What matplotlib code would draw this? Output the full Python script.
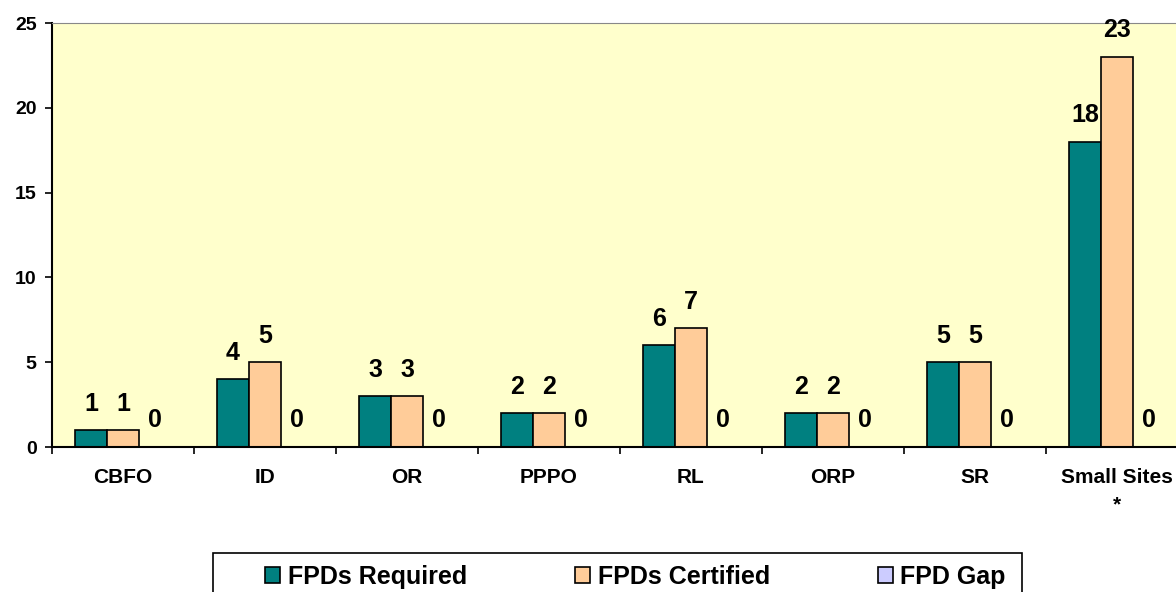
import matplotlib.pyplot as plt
import numpy as np
from matplotlib.patches import Rectangle

plt.rcParams['font.family'] = ['Liberation Sans', 'DejaVu Sans']
plt.rcParams['font.weight'] = 'bold'

categories = ['CBFO', 'ID', 'OR', 'PPPO', 'RL', 'ORP', 'SR', 'Small Sites\n*']
required = [1, 4, 3, 2, 6, 2, 5, 18]
certified = [1, 5, 3, 2, 7, 2, 5, 23]
gap = [0, 0, 0, 0, 0, 0, 0, 0]

series = [('FPDs Required', required, '#008080'),
          ('FPDs Certified', certified, '#FFCC99'),
          ('FPD Gap', gap, '#CCCCFF')]

W, H = 1176, 592
fig = plt.figure(figsize=(W / 100, H / 100), dpi=100)
# the plot area runs past the right edge of the picture, as in the original
ax = fig.add_axes([52 / W, 1 - 447 / H, 1136 / W, 424 / H])
ax.set_facecolor('#FFFFCC')

x = np.arange(len(categories))
width = 0.225
for i, (name, vals, color) in enumerate(series):
    pos = x + (i - 1) * width
    bars = ax.bar(pos, vals, width, color=color, edgecolor='black', linewidth=1.2, label=name)
    for b, v in zip(bars, vals):
        ax.text(b.get_x() + b.get_width() / 2, v + 1.15, str(v), ha='center', va='baseline',
                fontsize=18, fontweight='bold')

ax.set_xlim(-0.5, len(categories) - 0.5)
ax.set_ylim(0, 25)
ax.set_yticks(range(0, 26, 5))
ax.tick_params(axis='y', labelsize=14, length=5, width=1.2, direction='out', pad=6)

# category labels centred, tick marks on the boundaries
ax.set_xticks(x)
ax.set_xticklabels(categories, fontsize=15, fontweight='bold')
ax.get_xticklabels()[-1].set_linespacing(1.6)
ax.tick_params(axis='x', length=0, pad=15)
ax.set_xticks(np.arange(len(categories) + 1) - 0.5, minor=True)
ax.tick_params(axis='x', which='minor', length=5, width=1.2, direction='out')

ax.spines['left'].set_linewidth(1.5)
ax.spines['bottom'].set_linewidth(1.5)
ax.spines['top'].set_color('#888888')
ax.spines['right'].set_visible(False)

# legend box, its bottom edge falls below the picture
fig.patches.append(Rectangle((213 / W, -0.05), (1022 - 213) / W, (1 - 553 / H) + 0.05,
                             transform=fig.transFigure, facecolor='white',
                             edgecolor='black', linewidth=1.2, zorder=0))
fig.legend(loc='upper left', bbox_to_anchor=(265 / W, 1 - 565 / H), ncol=3,
           frameon=False, borderpad=0, borderaxespad=0,
           handlelength=0.6, handleheight=0.6, handletextpad=0.32,
           columnspacing=4.3, prop={'weight': 'bold', 'size': 18})

fig.savefig('out.png', dpi=100)
